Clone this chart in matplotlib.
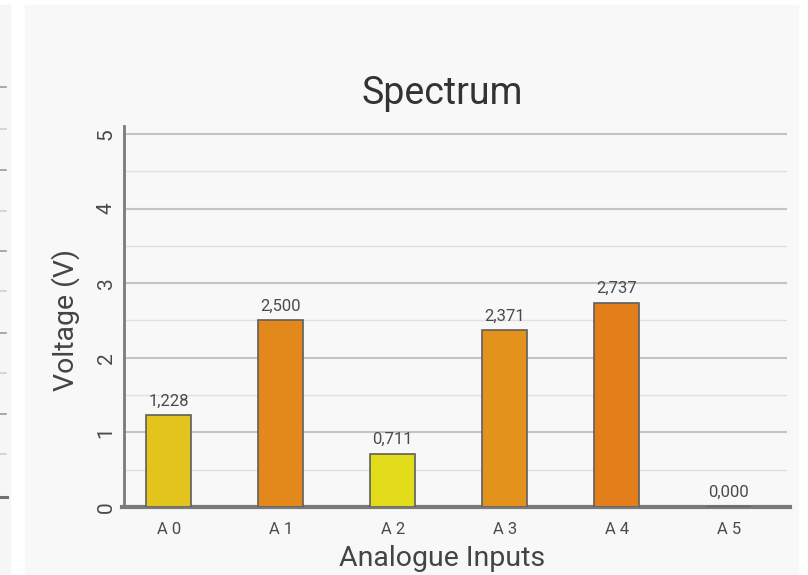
import matplotlib
matplotlib.use("Agg")
import matplotlib.pyplot as plt
from matplotlib.patches import Rectangle
from matplotlib.lines import Line2D
from matplotlib.ticker import MultipleLocator

plt.rcParams['font.family'] = ['Roboto', 'DejaVu Sans']

inputs = ["A 0", "A 1", "A 2", "A 3", "A 4", "A 5"]
voltages = [1.228, 2.500, 0.711, 2.371, 2.737, 0.000]
bar_colors = ["#e2c41c", "#e3891b", "#e3dc1b", "#e3921b", "#e37f1b", "#e3c41c"]

W, H = 808, 575
fig = plt.figure(figsize=(W / 100, H / 100), dpi=100)
fig.patch.set_facecolor("white")

# background panels
fig.add_artist(Rectangle((25 / W, 0), (798 - 25) / W, (H - 5) / H,
                         transform=fig.transFigure, color="#f8f8f8", zorder=0))
fig.add_artist(Rectangle((0, 0), 10 / W, (H - 5) / H,
                         transform=fig.transFigure, color="#f6f6f6", zorder=0))
# tick stubs of the neighbouring panel
for i, yy in enumerate([87, 129, 170, 211, 251, 291, 333, 373, 414, 454]):
    col = "#9a9a9a" if i % 2 == 0 else "#cfcfcf"
    fig.add_artist(Line2D([0, 6 / W], [1 - yy / H] * 2, transform=fig.transFigure,
                          color=col, lw=1.2))
fig.add_artist(Line2D([0, 7 / W], [1 - 497 / H] * 2, transform=fig.transFigure,
                      color="#707070", lw=2.2))

ax = fig.add_axes([124 / W, (H - 507) / H, (787 - 124) / W, (507 - 126.5) / H])
ax.set_facecolor("none")

x = range(len(inputs))
bars = ax.bar(x, voltages, width=0.4, color=bar_colors, edgecolor="#5f5f5f",
              linewidth=1.2, zorder=6)

for b, v in zip(bars, voltages):
    ax.text(b.get_x() + b.get_width() / 2, v + 0.09, f"{v:.3f}".replace(".", ","),
            ha="center", va="bottom", fontsize=12, color="#4a4a4a", zorder=7)

ax.set_xlim(-0.4, 5.52)
ax.set_ylim(0, 5.1)
ax.yaxis.set_major_locator(MultipleLocator(1))
ax.yaxis.set_minor_locator(MultipleLocator(0.5))
ax.grid(which="major", axis="y", color="#c4c4c4", lw=1.5, zorder=1)
ax.grid(which="minor", axis="y", color="#e0e0e0", lw=1.0, zorder=1)

ax.set_xticks(list(x))
ax.set_xticklabels(inputs)
ax.tick_params(axis="x", length=0, pad=11, labelsize=12, labelcolor="#4a4a4a")
ax.tick_params(axis="y", which="both", length=0, pad=6, labelsize=15,
               labelcolor="#4a4a4a")
for lbl in ax.get_yticklabels():
    lbl.set_rotation(90)
    lbl.set_va("center")

for s in ["top", "right"]:
    ax.spines[s].set_visible(False)
ax.spines["left"].set_color("#7a7a7a")
ax.spines["left"].set_linewidth(2)
ax.spines["bottom"].set_color("#7a7a7a")
ax.spines["bottom"].set_linewidth(3)
ax.spines["bottom"].set_bounds(-0.42, 5.55)
ax.spines["bottom"].set_zorder(5)

fig.text(442 / W, 1 - 93 / H, "Spectrum", ha="center", va="center",
         fontsize=27, color="#333333")
fig.text(442 / W, 1 - 558 / H, "Analogue Inputs", ha="center", va="center",
         fontsize=20.5, color="#444444")
fig.text(66 / W, 1 - 320 / H, "Voltage (V)", ha="center", va="center",
         rotation=90, fontsize=20.5, color="#444444")

fig.savefig("out.png", dpi=100)
